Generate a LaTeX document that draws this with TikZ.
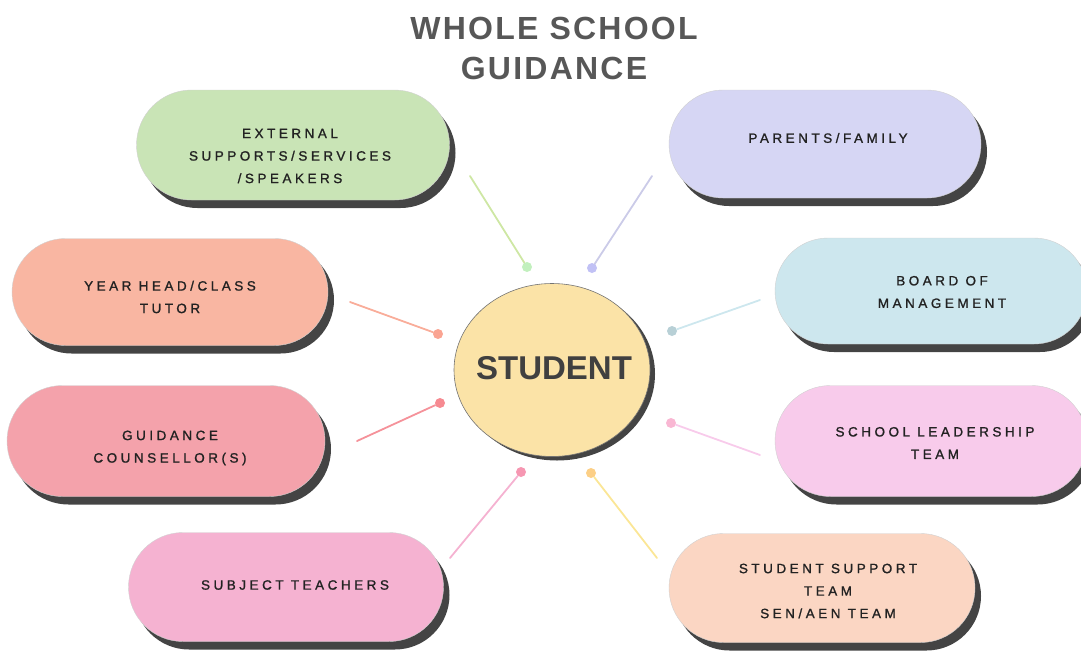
\documentclass[tikz,border=0pt]{standalone}
\usepackage{fontspec}
\setmainfont{Liberation Sans}
\newfontfamily\labelfont{Liberation Sans}[LetterSpace=26,FakeBold=1.2]
\newfontfamily\titlefont{Liberation Sans}[LetterSpace=7]
\usetikzlibrary{shapes.misc,shapes.geometric,shadows}

\definecolor{extfill}{HTML}{C9E4B6}
\definecolor{parfill}{HTML}{D6D6F4}
\definecolor{yhdfill}{HTML}{F9B6A2}
\definecolor{bomfill}{HTML}{CDE7EE}
\definecolor{gcfill}{HTML}{F4A2AB}
\definecolor{sltfill}{HTML}{F8CBEB}
\definecolor{stfill}{HTML}{F5B2D1}
\definecolor{sstfill}{HTML}{FBD6C3}
\definecolor{stufill}{HTML}{FBE3A7}
\definecolor{titlegray}{HTML}{575757}
\definecolor{labeltext}{HTML}{222222}
\definecolor{shadowgray}{HTML}{3A3A3A}

\begin{document}
\begin{tikzpicture}[x=1pt,y=-1pt,
  pill/.style={rounded rectangle, minimum width=312pt, minimum height=108pt,
    inner sep=0pt, draw=white!82!black, line width=0.4pt,
    drop shadow={shadow xshift=6pt, shadow yshift=-8pt, fill=shadowgray, opacity=0.95}},
  pilltext/.style={align=center, inner sep=0pt,
    font=\labelfont\fontsize{13.5}{22.5}\selectfont, text=labeltext},
  link/.style={line width=1.8pt, line cap=round},
  dot/.style={circle, inner sep=0pt, minimum size=10pt}]

\useasboundingbox (0,0) rectangle (1081,654);

% title
\node[font=\titlefont\bfseries\fontsize{32}{40}\selectfont, text=titlegray, align=center]
  (title) at (554,48) {WHOLE SCHOOL\\GUIDANCE};

% connectors: free outer end to a dot beside the centre circle
\coordinate (e1) at (470,176);
\coordinate (e2) at (652,176);
\coordinate (e3) at (350,302);
\coordinate (e4) at (357,441);
\coordinate (e5) at (760,300);
\coordinate (e6) at (760,455);
\coordinate (e7) at (450,558);
\coordinate (e8) at (657,558);

\node[dot, fill=extfill!85!black!60!green!40!white] (d1) at (527,267) {};
\node[dot, fill=parfill!90!blue] (d2) at (592,268) {};
\node[dot, fill=yhdfill!90!red] (d3) at (438,334) {};
\node[dot, fill=gcfill!85!red] (d4) at (440,403) {};
\node[dot, fill=bomfill!90!black] (d5) at (672,331) {};
\node[dot, fill=sltfill!90!red] (d6) at (671,423) {};
\node[dot, fill=stfill!85!red] (d7) at (521,472) {};
\node[dot, fill=stufill!80!orange] (d8) at (591,473) {};

\draw[link, draw=extfill!90!yellow] (e1) -- (d1);
\draw[link, draw=parfill!95!black] (e2) -- (d2);
\draw[link, draw=yhdfill!95!red] (e3) -- (d3);
\draw[link, draw=gcfill!90!red] (e4) -- (d4);
\draw[link, draw=bomfill] (e5) -- (d5);
\draw[link, draw=sltfill] (e6) -- (d6);
\draw[link, draw=stfill] (e7) -- (d7);
\draw[link, draw=stufill!90!yellow] (e8) -- (d8);

% centre circle and its label
\node[ellipse, minimum width=196pt, minimum height=173pt, inner sep=0pt, fill=stufill,
  draw=black!55, line width=0.6pt,
  drop shadow={shadow xshift=5pt, shadow yshift=-4pt, fill=shadowgray, opacity=0.95}]
  (stu) at (552,370) {};
\node[font=\bfseries\fontsize{33}{40}\selectfont, text=black!75] (stutext) at (554,368) {STUDENT};

% surrounding groups
\node[pill, fill=extfill, minimum width=313pt, minimum height=110pt] (ext) at (293,145) {};
\node[pilltext] (exttext) at (290,156) {EXTERNAL\\SUPPORTS/SERVICES\\/SPEAKERS};

\node[pill, fill=parfill] (par) at (825,144) {};
\node[pilltext] (partext) at (828,138) {PARENTS/FAMILY};

\node[pill, fill=yhdfill, minimum width=316pt, minimum height=107pt] (yhd) at (170,292) {};
\node[pilltext] (yhdtext) at (170,297) {YEAR HEAD/CLASS\\TUTOR};

\node[pill, fill=bomfill, minimum width=312pt, minimum height=106pt] (bom) at (931,291) {};
\node[pilltext] (bomtext) at (942,292) {BOARD OF\\MANAGEMENT};

\node[pill, fill=gcfill, minimum width=318pt, minimum height=111pt] (gc) at (166,441) {};
\node[pilltext] (gctext) at (170,448) {GUIDANCE\\COUNSELLOR(S)};

\node[pill, fill=sltfill, minimum width=312pt, minimum height=111pt] (slt) at (931,441) {};
\node[pilltext] (slttext) at (935,443) {SCHOOL LEADERSHIP\\TEAM};

\node[pill, fill=stfill, minimum width=315pt, minimum height=109pt] (st) at (286,587) {};
\node[pilltext] (sttext) at (295,585) {SUBJECT TEACHERS};

\node[pill, fill=sstfill, minimum width=306pt, minimum height=109pt] (sst) at (822,588) {};
\node[pilltext] (ssttext) at (828,591) {STUDENT SUPPORT\\TEAM\\SEN/AEN TEAM};
\end{tikzpicture}
\end{document}
